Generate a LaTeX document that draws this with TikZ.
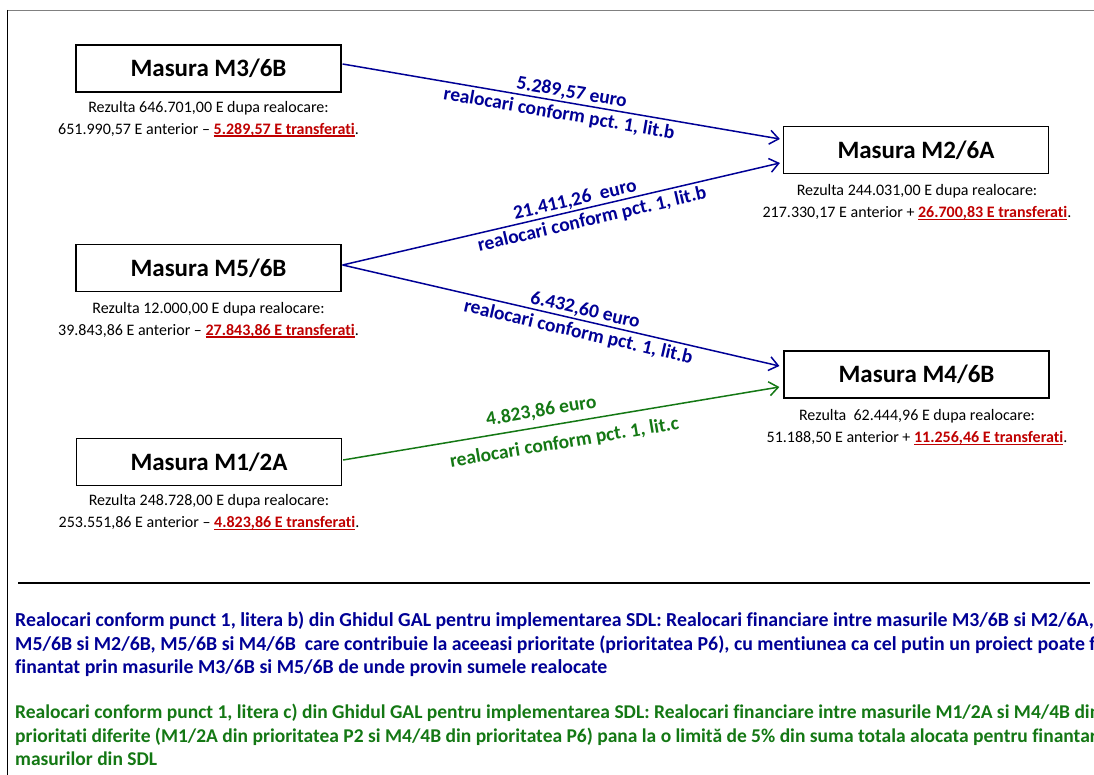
\documentclass[tikz,border=0pt]{standalone}
\usepackage{fontspec}
\setmainfont{Carlito}[Ligatures=NoCommon]
\usetikzlibrary{arrows.meta,calc}
\frenchspacing
\definecolor{navy}{RGB}{0,0,150}
\definecolor{dgreen}{RGB}{20,120,20}
\definecolor{dred}{RGB}{192,0,0}
\newcommand\redul[1]{{\color{dred}\bfseries\setbox0\hbox{#1}\rlap{\rule[-2.8pt]{\wd0}{1.6pt}}\box0}}
\tikzset{
  mbox/.style={draw, line width=1.2pt, minimum width=265pt, minimum height=47pt, inner sep=0pt,
    font=\fontsize{25}{30}\selectfont\bfseries},
  info/.style={align=center, inner sep=0pt, font=\fontsize{16}{22}\selectfont},
  flow/.style={line width=1.5pt, -{Straight Barb[length=9pt,width=14pt,line width=1.5pt]}},
  lbl/.style={sloped, anchor=base, inner sep=0pt, font=\fontsize{19.5}{23}\selectfont\bfseries},
  note/.style={anchor=base west, inner sep=0pt, font=\fontsize{19.8}{24}\selectfont\bfseries}
}
\begin{document}
\begin{tikzpicture}[x=1pt,y=-1pt]
\useasboundingbox (0,0) rectangle (1094,775);
\clip (0,0) rectangle (1094,775);
\fill[white] (0,0) rectangle (1094,775);
\draw[gray, line width=1.5pt] (7,10.5) -- (1100,10.5);
\draw[black, line width=1.2pt] (7.5,10) -- (7.5,780);

\node[mbox] (m3) at (208.5,68.5) {Masura M3/6B};
\node[mbox] (m5) at (208.5,268) {Masura M5/6B};
\node[mbox] (m1) at (209,462) {Masura M1/2A};
\node[mbox] (m2) at (916,150) {Masura M2/6A};
\node[mbox] (m4) at (916.5,374.5) {Masura M4/6B};

\node[info] (i3) at (208.5,119) {Rezulta 646.701,00 E dupa realocare:\\651.990,57 E anterior -- \redul{5.289,57 E transferati}.};
\node[info] (i5) at (208.5,320) {Rezulta 12.000,00 E dupa realocare:\\39.843,86 E anterior -- \redul{27.843,86 E transferati}.};
\node[info] (i1) at (209,512.5) {Rezulta 248.728,00 E dupa realocare:\\253.551,86 E anterior -- \redul{4.823,86 E transferati}.};
\node[info] (i2) at (917,202.5) {Rezulta 244.031,00 E dupa realocare:\\217.330,17 E anterior + \redul{26.700,83 E transferati}.};
\node[info] (i4) at (917,427.5) {Rezulta\ \ 62.444,96 E dupa realocare:\\51.188,50 E anterior + \redul{11.256,46 E transferati}.};

\draw[flow, navy] ($(m3.east)+(1,-4.5)$) --
  node[lbl, pos=0.52, yshift=5pt] {5.289,57 euro}
  node[lbl, pos=0.50, yshift=-18pt] {realocari conform pct. 1, lit.b}
  ($(m2.west)+(-3,-11)$);
\draw[flow, navy] ($(m5.east)+(1,-3)$) --
  node[lbl, pos=0.537, yshift=5pt] {21.411,26\ \ euro}
  node[lbl, pos=0.564, yshift=-18pt] {realocari conform pct. 1, lit.b}
  ($(m2.west)+(-3,13)$);
\draw[flow, navy] ($(m5.east)+(1,-3)$) --
  node[lbl, pos=0.55, yshift=5pt] {6.432,60 euro}
  node[lbl, pos=0.546, yshift=-18pt] {realocari conform pct. 1, lit.b}
  ($(m4.west)+(-4,-8.5)$);
\draw[flow, dgreen] ($(m1.east)+(1,-2)$) --
  node[lbl, pos=0.46, yshift=10pt] {4.823,86 euro}
  node[lbl, pos=0.50, yshift=-25pt] {realocari conform pct. 1, lit.c}
  ($(m4.west)+(-4,12.5)$);

\draw[line width=2.5pt] (18,583) -- (1090,583);

\begin{scope}[every node/.style={note, navy}]
\node (b1) at (15,626) {Realocari conform punct 1, litera b) din Ghidul GAL pentru implementarea SDL: Realocari financiare intre masurile M3/6B si M2/6A,};
\node (b2) at (15,650) {M5/6B si M2/6B, M5/6B si M4/6B\ \ care contribuie la aceeasi prioritate (prioritatea P6), cu mentiunea ca cel putin un proiect poate fi};
\node (b3) at (15,673) {finantat prin masurile M3/6B si M5/6B de unde provin sumele realocate};
\end{scope}
\begin{scope}[every node/.style={note, dgreen, font=\fontsize{19.5}{24}\selectfont\bfseries}]
\node (c1) at (15,718) {Realocari conform punct 1, litera c) din Ghidul GAL pentru implementarea SDL: Realocari financiare intre masurile M1/2A si M4/4B din};
\node (c2) at (15,742) {prioritati diferite (M1/2A din prioritatea P2 si M4/4B din prioritatea P6) pana la o limită de 5\% din suma totala alocata pentru finantarea};
\node (c3) at (15,765) {masurilor din SDL};
\end{scope}
\end{tikzpicture}
\end{document}
